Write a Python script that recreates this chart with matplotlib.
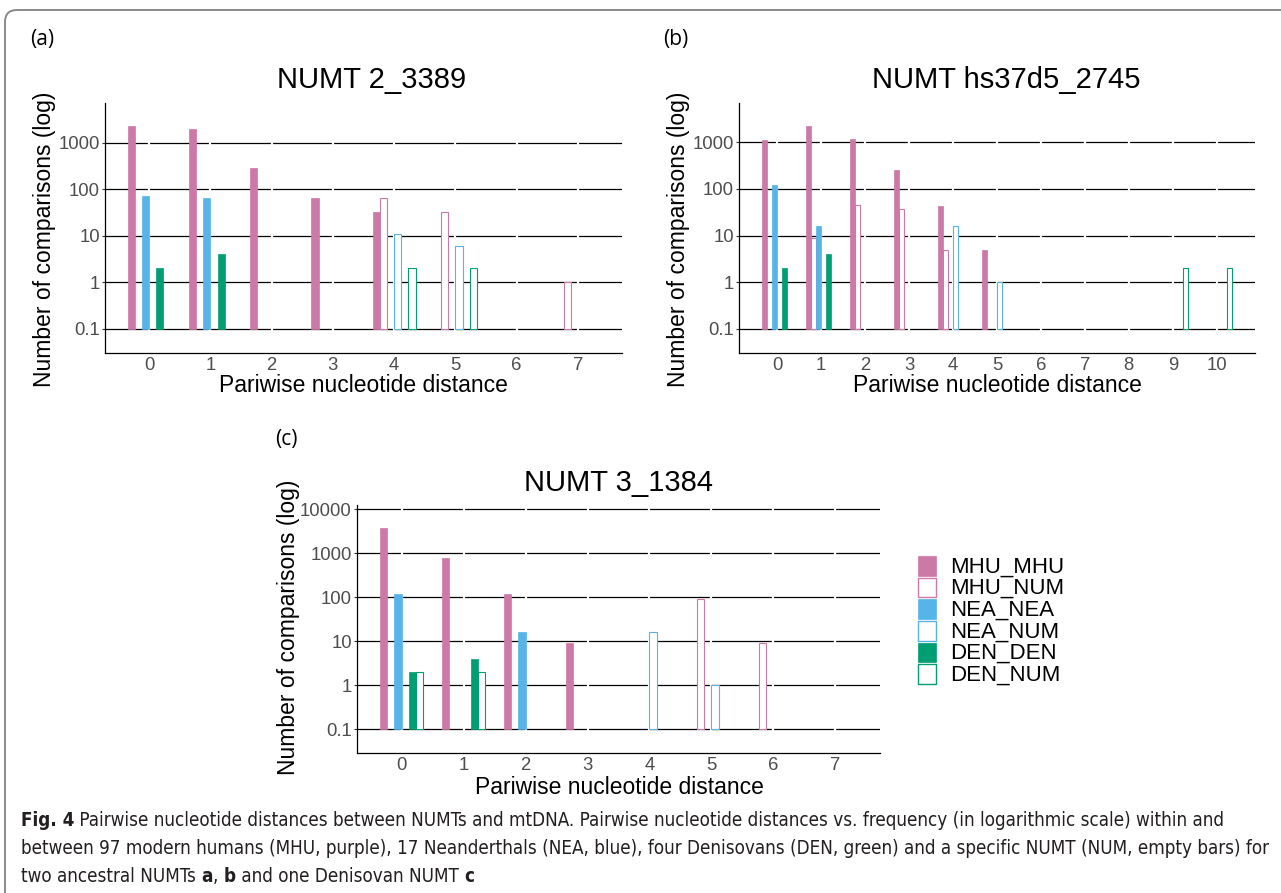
import numpy as np
import matplotlib.pyplot as plt
from matplotlib import font_manager as fm
from matplotlib.patches import Rectangle, FancyBboxPatch
from matplotlib.transforms import IdentityTransform

W, H = 1281, 893

groups = ['MHU_MHU', 'MHU_NUM', 'NEA_NEA', 'NEA_NUM', 'DEN_DEN', 'DEN_NUM']
pop_colors = {'MHU': '#CC79A7', 'NEA': '#56B4E9', 'DEN': '#009E73'}

# panel a: NUMT 2_3389
a_dist = [0, 1, 2, 3, 4, 5, 6, 7]
a_mhu_mhu = [2300, 2000, 280, 64, 33, 0, 0, 0]
a_mhu_num = [0, 0, 0, 0, 64, 32, 0, 1]
a_nea_nea = [70, 66, 0, 0, 0, 0, 0, 0]
a_nea_num = [0, 0, 0, 0, 11, 6, 0, 0]
a_den_den = [2, 4, 0, 0, 0, 0, 0, 0]
a_den_num = [0, 0, 0, 0, 2, 2, 0, 0]

# panel b: NUMT hs37d5_2745
b_dist = [0, 1, 2, 3, 4, 5, 6, 7, 8, 9, 10]
b_mhu_mhu = [1100, 2200, 1200, 256, 44, 5, 0, 0, 0, 0, 0]
b_mhu_num = [0, 9, 45, 38, 5, 0, 0, 0, 0, 0, 0]
b_nea_nea = [120, 16, 0, 0, 0, 0, 0, 0, 0, 0, 0]
b_nea_num = [0, 0, 0, 0, 16, 1, 0, 0, 0, 0, 0]
b_den_den = [2, 4, 0, 0, 0, 0, 0, 0, 0, 0, 0]
b_den_num = [0, 0, 0, 0, 0, 0, 0, 0, 0, 2, 2]

# panel c: NUMT 3_1384
c_dist = [0, 1, 2, 3, 4, 5, 6, 7]
c_mhu_mhu = [3800, 800, 120, 9, 0, 0, 0, 0]
c_mhu_num = [0, 0, 0, 0, 0, 90, 9, 0]
c_nea_nea = [120, 0, 16, 0, 0, 0, 0, 0]
c_nea_num = [0, 0, 0, 0, 16, 1, 0, 0]
c_den_den = [2, 4, 0, 0, 0, 0, 0, 0]
c_den_num = [2, 2, 0, 0, 0, 0, 0, 0]

FONT = ['Liberation Sans', 'DejaVu Sans']
plt.rcParams['font.family'] = FONT

fig = plt.figure(figsize=(W / 100, H / 100), dpi=100)


def px_axes(left, top, right, bottom):
    return fig.add_axes([left / W, 1 - bottom / H, (right - left) / W, (bottom - top) / H])


def ftext(x, y, s, **kw):
    return fig.text(x / W, 1 - y / H, s, **kw)


def draw_panel(ax, dist, series, xlim, ylim, yticks):
    w = 0.7 / 6
    dist = np.array(dist)
    for yt in yticks:
        ax.axhline(yt, color='black', lw=0.9, zorder=0.5)
    for d in dist:
        ax.axvline(d, color='white', lw=1.6, zorder=0.6)
    for k, (name, vals) in enumerate(zip(groups, series)):
        col = pop_colors[name[:3]]
        vals = np.array(vals, dtype=float)
        m = vals > 0
        x = dist + (k - 2.5) * w
        if name.endswith('NUM'):
            ax.bar(x[m], vals[m] - 0.1, bottom=0.1, width=w, facecolor='white',
                   edgecolor=col, lw=0.8, zorder=2)
        else:
            ax.bar(x[m], vals[m] - 0.1, bottom=0.1, width=w, facecolor=col,
                   edgecolor=col, lw=0.5, zorder=2)
    ax.set_yscale('log')
    ax.set_xlim(*xlim)
    ax.set_ylim(*ylim)
    ax.set_yticks(yticks, labels=[('%g' % t) for t in yticks])
    ax.minorticks_off()
    ax.set_xticks(dist, labels=[str(d) for d in dist])
    ax.tick_params(axis='x', length=0, pad=3, labelsize=13.3, labelcolor='#4D4D4D')
    ax.tick_params(axis='y', length=2.5, width=0.8, pad=1.2, labelsize=13.3,
                   labelcolor='#4D4D4D', color='#333333')
    for s in ['top', 'right']:
        ax.spines[s].set_visible(False)
    for s in ['left', 'bottom']:
        ax.spines[s].set_color('black')
        ax.spines[s].set_linewidth(0.9)


ax_a = px_axes(105, 103, 622, 353)
draw_panel(ax_a, a_dist, [a_mhu_mhu, a_mhu_num, a_nea_nea, a_nea_num, a_den_den, a_den_num],
           (-0.72, 7.72), (10 ** -1.52, 10 ** 3.85), [0.1, 1, 10, 100, 1000])

ax_b = px_axes(739, 103, 1255, 353)
draw_panel(ax_b, b_dist, [b_mhu_mhu, b_mhu_num, b_nea_nea, b_nea_num, b_den_den, b_den_num],
           (-0.87, 10.87), (10 ** -1.52, 10 ** 3.845), [0.1, 1, 10, 100, 1000])

ax_c = px_axes(357, 505, 880, 753)
draw_panel(ax_c, c_dist, [c_mhu_mhu, c_mhu_num, c_nea_nea, c_nea_num, c_den_den, c_den_num],
           (-0.72, 7.72), (10 ** -1.54, 10 ** 4.1), [0.1, 1, 10, 100, 1000, 10000])

# titles and axis titles
ftext(372, 80, 'NUMT 2_3389', fontsize=21, ha='center', va='center')
ftext(1006, 80, 'NUMT hs37d5_2745', fontsize=21, ha='center', va='center')
ftext(619, 483, 'NUMT 3_1384', fontsize=21, ha='center', va='center')

for x, y in [(363, 386), (997, 386), (619, 787)]:
    ftext(x, y, 'Pariwise nucleotide distance', fontsize=16.5, ha='center', va='center')
for x, y in [(44, 239), (679, 239), (288, 627)]:
    ftext(x, y, 'Number of comparisons (log)', fontsize=16.5, ha='center', va='center',
          rotation=90)

lab_font = ['Open Sans', 'DejaVu Sans']
ftext(42, 40, '(a)', fontsize=15, ha='center', va='center', family=lab_font)
ftext(676, 40, '(b)', fontsize=15, ha='center', va='center', family=lab_font)
ftext(286, 439, '(c)', fontsize=15, ha='center', va='center', family=lab_font)

# legend
lax = fig.add_axes([0, 0, 1, 1], zorder=-1)
lax.set_xlim(0, W)
lax.set_ylim(H, 0)
lax.axis('off')
for i, name in enumerate(groups):
    col = pop_colors[name[:3]]
    yc = 566 + 21.6 * i
    if name.endswith('NUM'):
        lax.add_patch(Rectangle((917.5, yc - 9.8), 18.5, 19.6, facecolor='white',
                                edgecolor=col, lw=1.0))
    else:
        lax.add_patch(Rectangle((917.5, yc - 9.8), 18.5, 19.6, facecolor=col,
                                edgecolor=col, lw=0.5))
    lax.text(950, yc + 1, name, fontsize=16, ha='left', va='center')

# frame with rounded corner
frame = FancyBboxPatch((5, -40), 1400, H - 10 + 40, boxstyle='round,pad=0,rounding_size=12',
                       transform=IdentityTransform(), facecolor='none', edgecolor='#8A8A8A',
                       lw=1.4, clip_on=False)
fig.patches.append(frame)


# caption: look for a condensed sans face, else use Liberation Sans
def find_narrow(bold):
    best = None
    for f in fm.fontManager.ttflist:
        nm = f.name
        narrow = ('Narrow' in nm) or ('Condensed' in nm) or \
                 (str(f.stretch) in ('condensed', 'semi-condensed', 'extra-condensed'))
        if not narrow or 'Mono' in nm or 'Serif' in nm:
            continue
        wt = f.weight if isinstance(f.weight, int) else {'bold': 700, 'normal': 400,
                                                           'regular': 400}.get(f.weight, 400)
        if (wt >= 600) != bold or str(f.style) != 'normal':
            continue
        if best is None or ('Sans' in nm and 'Sans' not in best.name):
            best = f
    return best


nreg, nbold = find_narrow(False), find_narrow(True)
if nreg is not None:
    cap_reg = fm.FontProperties(fname=nreg.fname)
    cap_bold = fm.FontProperties(fname=(nbold or nreg).fname)
    if nbold is None:
        cap_bold.set_weight('bold')
else:
    cap_reg = fm.FontProperties(family='Liberation Sans')
    cap_bold = fm.FontProperties(family='Liberation Sans', weight='bold')

lines = [
    [('Fig. 4', True), (' Pairwise nucleotide distances between NUMTs and mtDNA. Pairwise nucleotide '
                        'distances vs. frequency (in logarithmic scale) within and', False)],
    [('between 97 modern humans (MHU, purple), 17 Neanderthals (NEA, blue), four Denisovans '
      '(DEN, green) and a specific NUMT (NUM, empty bars) for', False)],
    [('two ancestral NUMTs ', False), ('a', True), (', ', False), ('b', True),
     (' and one Denisovan NUMT ', False), ('c', True)],
]
line_y = [821, 849, 876]
line_end = [1237, 1270, 573]
renderer = fig.canvas.get_renderer()


def draw_line(parts, y, size):
    x = 21
    arts = []
    for txt, bold in parts:
        fp = (cap_bold if bold else cap_reg).copy()
        fp.set_size(size)
        t = ftext(x, y, txt, fontproperties=fp, ha='left', va='center', color='#231F20')
        x = t.get_window_extent(renderer).x1
        arts.append(t)
    return arts, x


scales = []
for parts, y, end in zip(lines[:2], line_y, line_end):
    arts, xend = draw_line(parts, y, 12.0)
    scales.append((end - 21) / (xend - 21))
    for a in arts:
        a.remove()
size = 12.0 * min(scales)
for parts, y in zip(lines, line_y):
    draw_line(parts, y, size)

fig.savefig('out.png', dpi=100)
